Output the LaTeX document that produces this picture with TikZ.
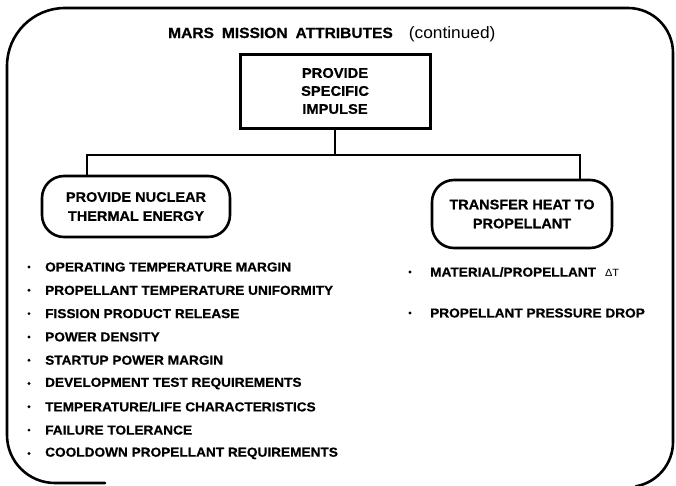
\documentclass[tikz,border=0pt]{standalone}
\usepackage{fontspec}
\setmainfont[FakeStretch=1.05,BoldFeatures={FakeBold=0.6}]{Liberation Sans}
\begin{document}
\begin{tikzpicture}[x=1pt,y=-1pt,
  frame/.style={line width=2.6pt,line cap=round},
  topbox/.style={draw,line width=3pt,minimum width=190pt,minimum height=74pt,align=center,inner sep=0pt},
  pill/.style={draw,line width=2.6pt,rounded corners=22pt,align=center,inner sep=0pt},
  conn/.style={line width=1.4pt},
  boxtext/.style={font=\fontsize{14}{18}\selectfont\bfseries},
  pilltext/.style={font=\fontsize{13.8}{19}\selectfont\bfseries},
  item/.style={anchor=west,inner sep=0pt,font=\fontsize{13}{15}\selectfont\bfseries},
  dot/.style={circle,fill,inner sep=0pt,minimum size=3.2pt}
]
\useasboundingbox (0,0) rectangle (676,485);
\clip (0,0) rectangle (676,485);
% outer frame
\draw[frame] (105,483) -- (55,483) arc[start angle=90,end angle=180,radius=48]
  -- (7,66) arc[start angle=180,end angle=270,radius=58]
  -- (628,8) arc[start angle=270,end angle=360,radius=45]
  -- (673,442) arc[start angle=0,end angle=80,radius=45];
% title
\node[anchor=base west,inner sep=0pt] (title) at (168,38)
  {\fontsize{14.8}{16}\selectfont\bfseries MARS\hspace{8pt}MISSION\hspace{8pt}ATTRIBUTES\hspace{16pt}\mdseries\fontsize{16.5}{17}\selectfont(continued)};
% top box
\node[topbox,boxtext] (top) at (335,91) {PROVIDE\\SPECIFIC\\IMPULSE};
% pills
\node[pill,pilltext,minimum width=188pt,minimum height=61pt] (left) at (136,206.5) {PROVIDE NUCLEAR\\THERMAL ENERGY};
\node[pill,pilltext,minimum width=180pt,minimum height=68pt] (right) at (522,214) {TRANSFER HEAT TO\\PROPELLANT};
% connectors
\coordinate (jl) at (87,155);
\coordinate (jr) at (580,155);
\draw[conn] (top.south) -- (top.south |- jl);
\draw[conn] (jl |- left.north) -- (jl) -- (jr) -- (jr |- right.north);
% left list
\foreach \t [count=\i from 0] in {OPERATING TEMPERATURE MARGIN,PROPELLANT TEMPERATURE UNIFORMITY,FISSION PRODUCT RELEASE,POWER DENSITY,STARTUP POWER MARGIN,DEVELOPMENT TEST REQUIREMENTS,TEMPERATURE/LIFE CHARACTERISTICS,FAILURE TOLERANCE,COOLDOWN PROPELLANT REQUIREMENTS}{
  \node[dot] (ld\i) at (29,{267+23.3*\i}) {};
  \node[item] (li\i) at (45,{267+23.3*\i}) {\t};
}
% right list
\node[dot] (rd0) at (410,272) {};
\node[item] (ri0) at (430,272) {MATERIAL/PROPELLANT\hspace{9pt}{\mdseries\fontsize{10.5}{12}\selectfont ΔT}};
\node[dot] (rd1) at (410,313) {};
\node[item] (ri1) at (430,313) {PROPELLANT PRESSURE DROP};
\end{tikzpicture}
\end{document}
